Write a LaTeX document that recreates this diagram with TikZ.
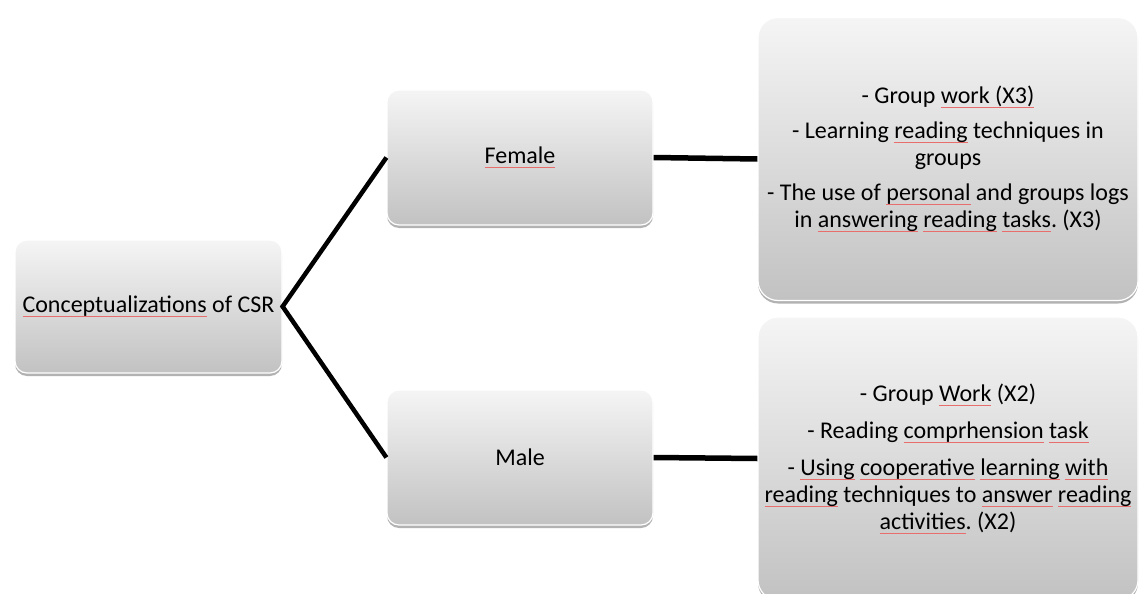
\documentclass[tikz,border=0pt]{standalone}
\usepackage{fontspec}
\setmainfont{Carlito}
\usetikzlibrary{shadows}
\frenchspacing
\definecolor{spell}{RGB}{232,110,110}
\newsavebox\sqbox
\newcommand\sq[1]{\leavevmode\sbox\sqbox{#1}\rlap{\textcolor{spell}{\rule[-0.17em]{\wd\sqbox}{0.7pt}}}\usebox\sqbox}
\tikzset{
  box/.style={rectangle, rounded corners=12pt, draw=white, line width=1.2pt,
    top color=black!4, bottom color=black!24,
    drop shadow={shadow xshift=0pt, shadow yshift=-3pt, opacity=0.3, fill=black},
    font=\fontsize{24}{27}\selectfont, align=flush center, inner sep=0pt},
  bigbox/.style={box, rounded corners=20pt},
  link/.style={draw=black, line width=4.5pt},
  hlink/.style={draw=black, line width=5.5pt}
}
\begin{document}
\begin{tikzpicture}[x=1pt,y=-1pt]
\useasboundingbox (0,0) rectangle (1141,594);
\clip (0,0) rectangle (1141,594);
\node[box, minimum width=267pt, minimum height=133pt] (root) at (148.5,306.5) {\sq{Conceptualizations} of CSR};
\node[box, minimum width=266pt, minimum height=135pt] (fem) at (520,157.5) {\sq{Female}};
\node[box, minimum width=266pt, minimum height=135pt] (male) at (520,457.5) {Male};
\node[bigbox, minimum width=380pt, minimum height=283pt, text width=378pt] (flist) at (948,159)
  {- Group \sq{work (X3)}\\[8pt]
   - Learning \sq{reading} techniques in\\ groups\\[8pt]
   - The use of \sq{personal} and groups logs\\ in \sq{answering} \sq{reading} \sq{tasks}. (X3)};
\node[bigbox, minimum width=380pt, minimum height=283pt, text width=378pt] (mlist) at (948,458.5)
  {- Group \sq{Work} (X2)\\[10pt]
   - Reading \sq{comprhension} \sq{task}\\[10pt]
   - \sq{Using} \sq{cooperative} \sq{learning} \sq{with}\\ \sq{reading} techniques to \sq{answer} \sq{reading}\\ \sq{activities}. (X2)};
\draw[link] (fem.west) -- (root.east) -- (male.west);
\draw[hlink] (fem.east) -- (flist.west);
\draw[hlink] (male.east) -- (mlist.west);
\end{tikzpicture}
\end{document}
